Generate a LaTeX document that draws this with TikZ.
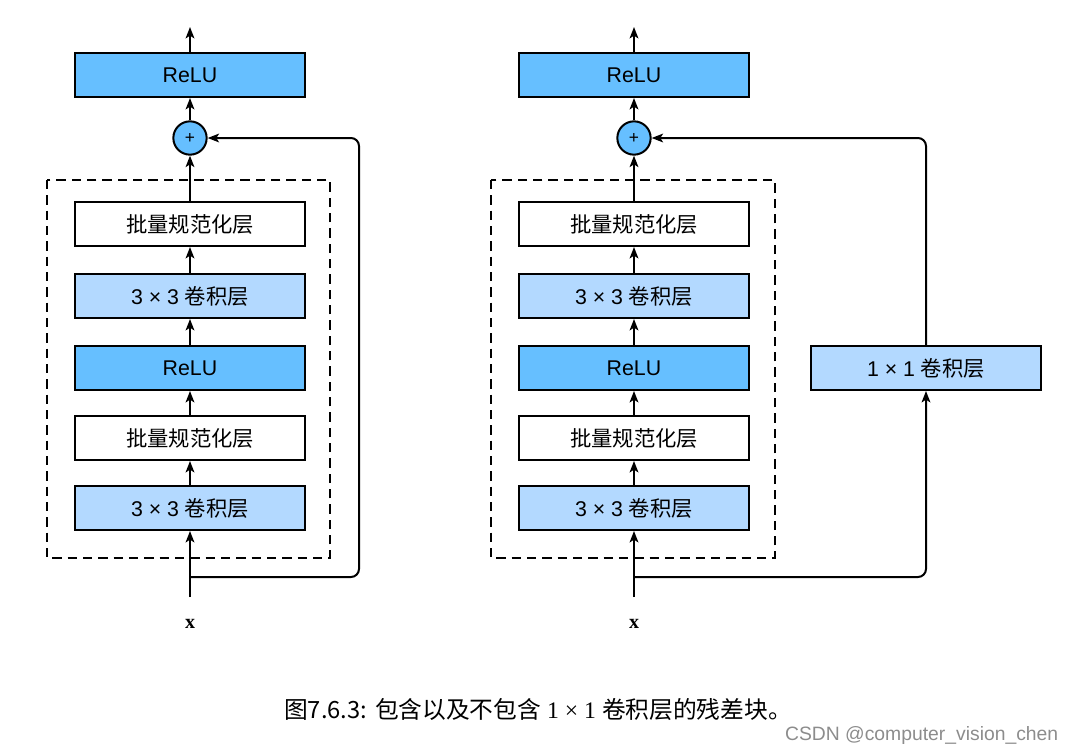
\documentclass[tikz,border=0pt]{standalone}
\usepackage{fontspec}
\setmainfont{Liberation Serif}
\setsansfont{Liberation Sans}
\newfontfamily\cjk{Noto Sans CJK SC}
\usetikzlibrary{arrows.meta}
\definecolor{relublue}{RGB}{102,191,255}
\definecolor{convblue}{RGB}{179,217,255}
\begin{document}
\begin{tikzpicture}[x=0.75pt,y=-0.75pt]
    \tikzstyle{layer}=[draw=black,line width=1.5pt,minimum width=172pt,minimum height=33pt,inner sep=0pt,font=\fontsize{16}{18}\sffamily]
    \tikzstyle{relu}=[layer,fill=relublue]
    \tikzstyle{conv}=[layer,fill=convblue]
    \tikzstyle{bn}=[layer,fill=white]
    \tikzstyle{plus}=[circle,draw=black,line width=1.5pt,fill=relublue,minimum size=25pt,inner sep=0pt,font=\fontsize{13}{13}\sffamily]
    \tikzstyle{flow}=[line width=1.5pt,-{Stealth[length=8.5pt,width=6.5pt,inset=2pt]}]
    \tikzstyle{skip}=[flow,rounded corners=6pt]
    \tikzstyle{block}=[draw=black,line width=1.5pt,dash pattern=on 7pt off 4.5pt]
    \tikzstyle{input}=[font=\fontsize{15}{18}\bfseries]
    \useasboundingbox (0,0) rectangle (1076,754);
    % left: residual block without 1x1 convolution
    \draw [block] (47,180) rectangle (330,558);
    \node (lconva) [conv] at (190,508) {3 × 3 {\cjk 卷积层}};
    \node (lbna)   [bn]   at (190,438) {\cjk 批量规范化层};
    \node (lrelua) [relu] at (190,368) {ReLU};
    \node (lconvb) [conv] at (190,296) {3 × 3 {\cjk 卷积层}};
    \node (lbnb)   [bn]   at (190,224) {\cjk 批量规范化层};
    \node (lplus)  [plus] at (190,138) {+};
    \node (lrelub) [relu] at (190,75)  {ReLU};
    \node (lx) [input] at (190,624) {x};
    \coordinate (lin)     at (190,597);
    \coordinate (lsplit)  at (190,577);
    \coordinate (lcorner) at (359,138);
    \coordinate (lout)    at (190,27);
    \draw [flow] (lin) -- (lconva);
    \draw [flow] (lconva) -- (lbna);
    \draw [flow] (lbna) -- (lrelua);
    \draw [flow] (lrelua) -- (lconvb);
    \draw [flow] (lconvb) -- (lbnb);
    \draw [flow] (lbnb) -- (lplus);
    \draw [flow] (lplus) -- (lrelub);
    \draw [flow] (lrelub) -- (lout);
    \draw [skip] (lsplit) -| (lcorner) -- (lplus);
    % right: residual block with 1x1 convolution
    \draw [block] (491,180) rectangle (775,558);
    \node (rconva) [conv] at (634,508) {3 × 3 {\cjk 卷积层}};
    \node (rbna)   [bn]   at (634,438) {\cjk 批量规范化层};
    \node (rrelua) [relu] at (634,368) {ReLU};
    \node (rconvb) [conv] at (634,296) {3 × 3 {\cjk 卷积层}};
    \node (rbnb)   [bn]   at (634,224) {\cjk 批量规范化层};
    \node (rplus)  [plus] at (634,138) {+};
    \node (rrelub) [relu] at (634,75)  {ReLU};
    \node (rconvc) [conv] at (926,368) {1 × 1 {\cjk 卷积层}};
    \node (rx) [input] at (634,624) {x};
    \coordinate (rin)    at (634,597);
    \coordinate (rsplit) at (634,577);
    \coordinate (rout)   at (634,27);
    \draw [flow] (rin) -- (rconva);
    \draw [flow] (rconva) -- (rbna);
    \draw [flow] (rbna) -- (rrelua);
    \draw [flow] (rrelua) -- (rconvb);
    \draw [flow] (rconvb) -- (rbnb);
    \draw [flow] (rbnb) -- (rplus);
    \draw [flow] (rplus) -- (rrelub);
    \draw [flow] (rrelub) -- (rout);
    \draw [skip] (rsplit) -| (rconvc);
    \draw [skip] (rconvc) |- (rplus);
    % caption
    \node (caption) [font=\fontsize{17.8}{20}\selectfont] at (538,710)
        {{\cjk 图7.6.3:} {\cjk 包含以及不包含} 1 × 1 {\cjk 卷积层的残差块。}};
    \node (mark) [anchor=east,text=black!45,font=\fontsize{14.5}{17}\sffamily] at (1063,735)
        {CSDN @computer\_vision\_chen};
\end{tikzpicture}
\end{document}
